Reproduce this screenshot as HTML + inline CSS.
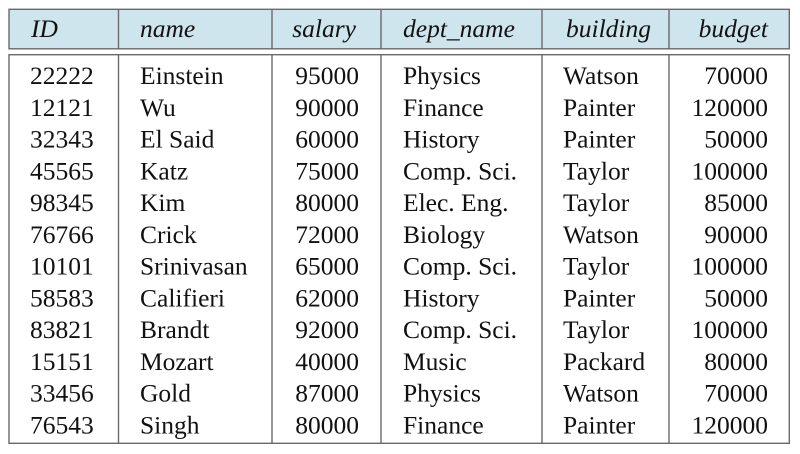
<!DOCTYPE html>
<html><head><meta charset="utf-8">
<style>
html,body{margin:0;padding:0;background:#fff;}
svg{display:block;}
text{font-family:"Liberation Serif","Times New Roman",serif;font-size:25.5px;fill:#111;}
.h{font-style:italic;}
.r{text-anchor:end;}
</style></head>
<body>
<svg width="800" height="454" viewBox="0 0 800 454" xmlns="http://www.w3.org/2000/svg">
<rect x="9" y="9.3" width="780.3" height="39.5" fill="#cfe5ee" stroke="#6a6a6a" stroke-width="1.4"/>
<rect x="9" y="54.7" width="780.3" height="388.6" fill="#fff" stroke="#6a6a6a" stroke-width="1.4"/>
<g stroke="#6a6a6a" stroke-width="1.4">
<line x1="118.5" y1="9.3" x2="118.5" y2="48.8"/><line x1="118.5" y1="54.7" x2="118.5" y2="443.3"/>
<line x1="272" y1="9.3" x2="272" y2="48.8"/><line x1="272" y1="54.7" x2="272" y2="443.3"/>
<line x1="381" y1="9.3" x2="381" y2="48.8"/><line x1="381" y1="54.7" x2="381" y2="443.3"/>
<line x1="542" y1="9.3" x2="542" y2="48.8"/><line x1="542" y1="54.7" x2="542" y2="443.3"/>
<line x1="669" y1="9.3" x2="669" y2="48.8"/><line x1="669" y1="54.7" x2="669" y2="443.3"/>
</g>
<g class="h">
<text x="31" y="37">ID</text>
<text x="140" y="37">name</text>
<text class="r" x="356" y="37">salary</text>
<text x="403" y="37">dept_name</text>
<text x="566" y="37">building</text>
<text class="r" x="768" y="37">budget</text>
</g>
<g>
<text x="30" y="84">22222</text><text x="140" y="84">Einstein</text><text class="r" x="359" y="84">95000</text><text x="403" y="84">Physics</text><text x="563" y="84">Watson</text><text class="r" x="768" y="84">70000</text>
<text x="30" y="115.75">12121</text><text x="140" y="115.75">Wu</text><text class="r" x="359" y="115.75">90000</text><text x="403" y="115.75">Finance</text><text x="563" y="115.75">Painter</text><text class="r" x="768" y="115.75">120000</text>
<text x="30" y="147.5">32343</text><text x="140" y="147.5">El Said</text><text class="r" x="359" y="147.5">60000</text><text x="403" y="147.5">History</text><text x="563" y="147.5">Painter</text><text class="r" x="768" y="147.5">50000</text>
<text x="30" y="179.25">45565</text><text x="140" y="179.25">Katz</text><text class="r" x="359" y="179.25">75000</text><text x="403" y="179.25">Comp. Sci.</text><text x="563" y="179.25">Taylor</text><text class="r" x="768" y="179.25">100000</text>
<text x="30" y="211">98345</text><text x="140" y="211">Kim</text><text class="r" x="359" y="211">80000</text><text x="403" y="211">Elec. Eng.</text><text x="563" y="211">Taylor</text><text class="r" x="768" y="211">85000</text>
<text x="30" y="242.75">76766</text><text x="140" y="242.75">Crick</text><text class="r" x="359" y="242.75">72000</text><text x="403" y="242.75">Biology</text><text x="563" y="242.75">Watson</text><text class="r" x="768" y="242.75">90000</text>
<text x="30" y="274.5">10101</text><text x="140" y="274.5">Srinivasan</text><text class="r" x="359" y="274.5">65000</text><text x="403" y="274.5">Comp. Sci.</text><text x="563" y="274.5">Taylor</text><text class="r" x="768" y="274.5">100000</text>
<text x="30" y="306.25">58583</text><text x="140" y="306.25">Califieri</text><text class="r" x="359" y="306.25">62000</text><text x="403" y="306.25">History</text><text x="563" y="306.25">Painter</text><text class="r" x="768" y="306.25">50000</text>
<text x="30" y="338">83821</text><text x="140" y="338">Brandt</text><text class="r" x="359" y="338">92000</text><text x="403" y="338">Comp. Sci.</text><text x="563" y="338">Taylor</text><text class="r" x="768" y="338">100000</text>
<text x="30" y="369.75">15151</text><text x="140" y="369.75">Mozart</text><text class="r" x="359" y="369.75">40000</text><text x="403" y="369.75">Music</text><text x="563" y="369.75">Packard</text><text class="r" x="768" y="369.75">80000</text>
<text x="30" y="401.5">33456</text><text x="140" y="401.5">Gold</text><text class="r" x="359" y="401.5">87000</text><text x="403" y="401.5">Physics</text><text x="563" y="401.5">Watson</text><text class="r" x="768" y="401.5">70000</text>
<text x="30" y="433.25">76543</text><text x="140" y="433.25">Singh</text><text class="r" x="359" y="433.25">80000</text><text x="403" y="433.25">Finance</text><text x="563" y="433.25">Painter</text><text class="r" x="768" y="433.25">120000</text>
</g>
</svg>
</body></html>
